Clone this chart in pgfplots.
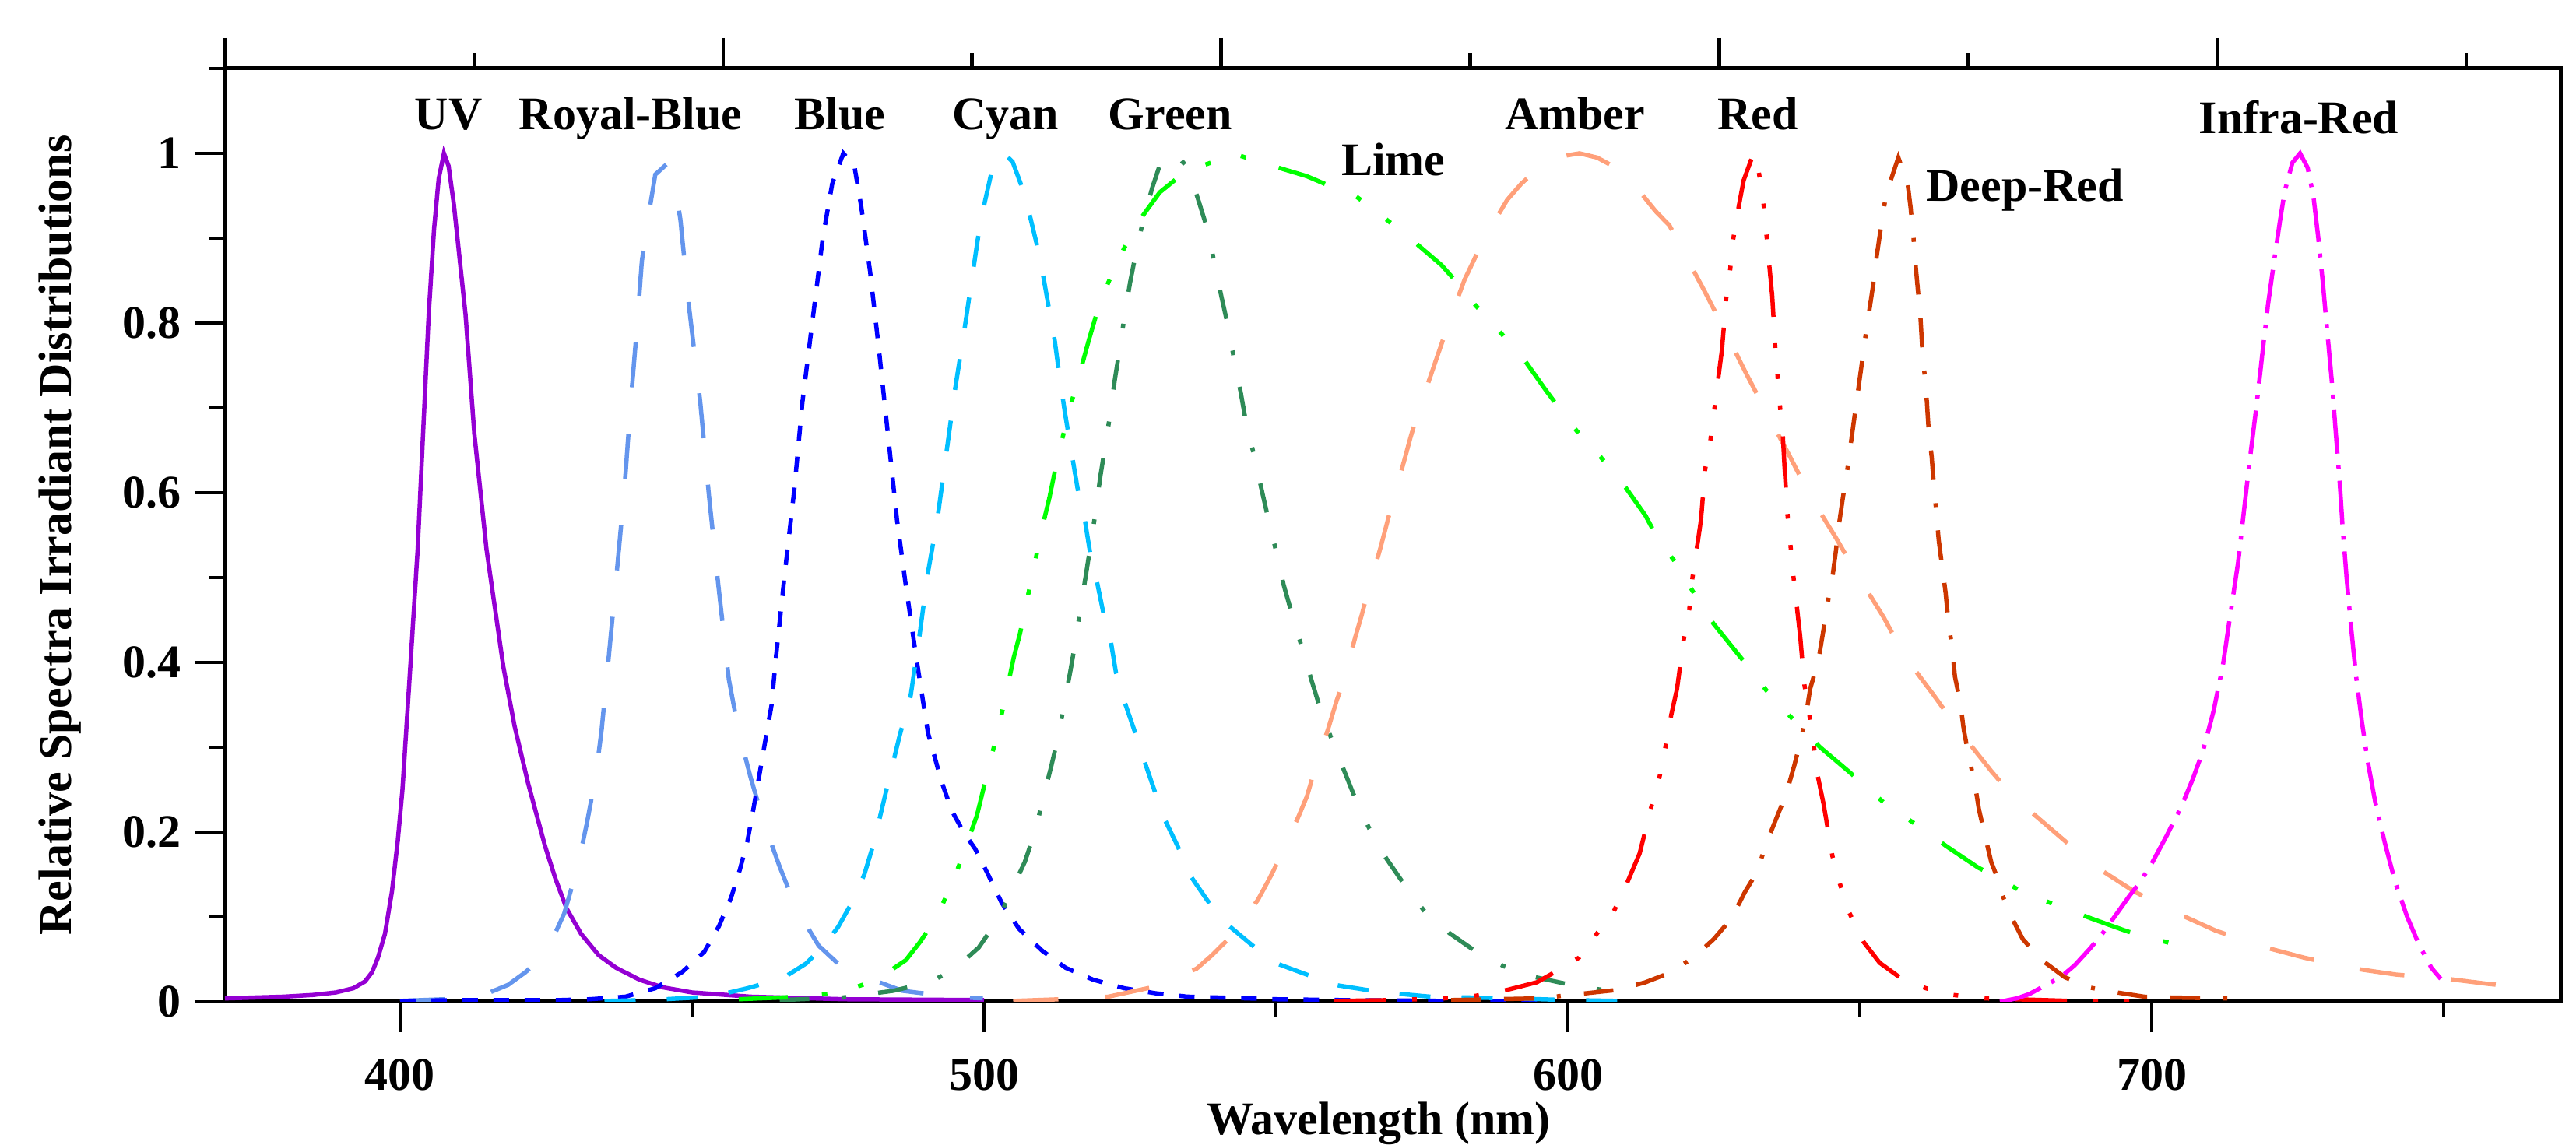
\documentclass[border=0pt]{standalone}
\usepackage{fontspec}
\setmainfont{Liberation Serif}
\usepackage{pgfplots}
\pgfplotsset{compat=1.18}
\definecolor{cUV}{HTML}{9400D3}
\definecolor{cRB}{HTML}{6495ED}
\definecolor{cBL}{HTML}{0000FF}
\definecolor{cCY}{HTML}{00BFFF}
\definecolor{cGR}{HTML}{2E8B57}
\definecolor{cLI}{HTML}{00FF00}
\definecolor{cAM}{HTML}{FFA07A}
\definecolor{cRD}{HTML}{FF0000}
\definecolor{cDR}{HTML}{CD3700}
\definecolor{cIR}{HTML}{FF00FF}
\newcommand{\lf}{\fontsize{12}{14}\selectfont\bfseries}
\begin{document}
\begin{tikzpicture}[font=\lf]
\begin{axis}[
  at={(0,0)}, anchor=south west,
  scale only axis, width=600pt, height=239.8pt,
  xmin=370, xmax=770, ymin=0, ymax=1.1,
  axis line style={line width=1pt},
  tick align=outside,
  xtick pos=left, ytick pos=left,
  xtick={400,500,600,700}, minor xtick={450,550,650,750},
  ytick={0,0.2,0.4,0.6,0.8,1}, minor ytick={0.1,0.3,0.5,0.7,0.9,1.1},
  major tick length=7.8pt, minor tick length=3.9pt,
  tick style={black, line width=0.9pt},
  /pgf/number format/assume math mode=true,
  ticklabel style={font=\lf},
  xticklabel style={yshift=-3.4pt},
  xlabel={Wavelength (nm)},
  ylabel={Relative Spectra Irradiant Distributions},
  label style={font=\lf},
  xlabel style={at={(axis description cs:0.494,-0.1418)}, anchor=base},
  ylabel style={at={(axis description cs:-0.0657,0.5)}, anchor=base},
  every axis plot/.append style={line width=1.1pt},
]
% UV
\addplot[cUV, solid] coordinates {
(370,0.004)(380,0.006)(385,0.008)(389,0.011)(392,0.016)(394,0.024)(395.2,0.035)(396.2,0.052)(397.4,0.08)(398.6,0.13)(399.6,0.19)(400.4,0.25)(401.7,0.39)(403,0.533)(404,0.68)(404.9,0.811)(405.8,0.91)(406.6,0.97)(407.5,1.0)(408.3,0.985)(409.2,0.94)(410.2,0.875)(411.2,0.81)(412.7,0.67)(414.8,0.533)(417.7,0.394)(419.6,0.325)(421.9,0.258)(424.8,0.184)(426.6,0.145)(428.5,0.11)(431,0.08)(434,0.055)(437,0.04)(441,0.026)(445,0.017)(450,0.011)(460,0.006)(476,0.003)(500,0.002)};
% Royal-Blue
\addplot[cRB, dash pattern=on 11.6pt off 12pt] coordinates {
(400,0.001)(411.5,0.004)(415,0.01)(418.5,0.02)(421.5,0.035)(424.8,0.057)(426.5,0.08)(428.1,0.104)(430.4,0.159)(432,0.211)(433.5,0.266)(434.5,0.32)(435.5,0.39)(436.9,0.491)(438.4,0.603)(439.5,0.707)(440.5,0.79)(441.4,0.873)(442.6,0.929)(443.7,0.975)(445.3,0.985)(446.8,0.975)(448,0.922)(449.5,0.818)(451.4,0.707)(452.9,0.596)(454.5,0.491)(456.3,0.38)(458,0.318)(460,0.265)(462.3,0.211)(464.9,0.161)(467.9,0.109)(471.7,0.066)(475,0.045)(478.9,0.031)(486,0.013)(494.2,0.006)(499.8,0.004)};
% Blue
\addplot[cBL, dash pattern=on 4pt off 4pt] coordinates {
(400,0.001)(410,0.002)(420,0.002)(427.4,0.002)(432.5,0.003)(438.6,0.006)(443.7,0.016)(448.3,0.035)(452.1,0.059)(454.6,0.089)(456.7,0.123)(458.2,0.156)(459.5,0.19)(460.5,0.227)(461.5,0.266)(462.5,0.306)(463.6,0.349)(464.4,0.408)(465.9,0.506)(467.5,0.603)(468.9,0.707)(470.9,0.818)(472.4,0.901)(474,0.964)(475.9,1.0)(477.8,0.985)(479,0.936)(480.5,0.86)(482,0.769)(483.5,0.672)(485.1,0.568)(486.6,0.491)(488.5,0.401)(490.4,0.317)(492.7,0.26)(494.5,0.225)(496.5,0.2)(498.5,0.18)(500.7,0.15)(503,0.117)(506,0.086)(510,0.06)(514,0.04)(518.7,0.026)(524,0.016)(529.4,0.01)(534.9,0.006)(540.3,0.005)(550,0.003)(561.4,0.002)(580,0.001)(595,0.001)};
% Cyan
\addplot[cCY, dash pattern=on 8pt off 8pt] coordinates {
(435,0.001)(442.7,0.002)(453.3,0.006)(459.5,0.016)(465.6,0.028)(469.5,0.045)(472.3,0.064)(475,0.088)(477.3,0.116)(479.5,0.15)(481,0.184)(483.3,0.25)(485.6,0.315)(487.4,0.359)(488.9,0.429)(490.4,0.506)(492,0.568)(493.5,0.644)(495,0.72)(496.6,0.79)(498.1,0.86)(499.4,0.92)(501.2,0.975)(503.4,1.0)(504.9,0.99)(506.3,0.964)(507.7,0.931)(509,0.894)(510,0.861)(511.1,0.818)(512.1,0.78)(512.8,0.744)(513.8,0.697)(514.8,0.655)(516.2,0.598)(517.2,0.571)(518.2,0.528)(519.2,0.5)(520.6,0.453)(521.6,0.43)(522.6,0.388)(524,0.355)(526,0.315)(527.4,0.285)(529.1,0.251)(530.8,0.217)(533.2,0.183)(535.2,0.15)(538.3,0.119)(541.7,0.091)(545.7,0.068)(549.8,0.046)(555.3,0.032)(560,0.02)(565.5,0.014)(570.2,0.01)(576.4,0.006)(590.7,0.004)(600,0.002)(609,0.001)};
% Green
\addplot[cGR, dash pattern=on 7.6pt off 8.3pt on 1.2pt off 8.3pt] coordinates {
(465,0.002)(475.8,0.005)(484.5,0.013)(490.6,0.023)(494.7,0.037)(499.1,0.064)(502.5,0.098)(504.5,0.128)(507,0.165)(508.9,0.204)(510,0.237)(511.5,0.277)(512.8,0.315)(513.7,0.35)(514.8,0.39)(515.8,0.43)(516.5,0.463)(517.5,0.505)(518.4,0.545)(519.1,0.577)(519.9,0.618)(520.8,0.657)(521.6,0.692)(522.4,0.733)(523.3,0.772)(524,0.805)(525,0.847)(526.2,0.889)(527.2,0.919)(528.8,0.959)(530.3,0.99)(531.8,1.0)(533.5,0.994)(534.9,0.983)(536.8,0.943)(538.6,0.903)(539.4,0.872)(540.7,0.83)(542,0.79)(542.8,0.758)(544,0.717)(545,0.678)(546.3,0.643)(547.5,0.605)(548.8,0.566)(550,0.532)(551.3,0.492)(552.9,0.453)(554.3,0.421)(556,0.381)(557.7,0.343)(559.4,0.312)(561.7,0.272)(563.8,0.236)(566,0.204)(568.9,0.169)(572.3,0.135)(575.4,0.107)(579.7,0.081)(584.5,0.058)(589,0.042)(594.4,0.029)(600.5,0.02)(604,0.016)(608,0.012)};
% Lime
\addplot[cLI, dash pattern=on 12.6pt off 8.8pt on 1.4pt off 8.2pt on 1.4pt off 8.8pt] coordinates {
(458,0.003)(468.7,0.006)(475.3,0.011)(481.4,0.025)(486.6,0.049)(489.1,0.071)(491.7,0.098)(494.5,0.138)(496.7,0.179)(498.8,0.22)(500.9,0.279)(502.5,0.322)(503.9,0.367)(505.1,0.406)(506.2,0.435)(507.1,0.465)(508.5,0.51)(509.8,0.554)(511.2,0.594)(512.1,0.624)(513.1,0.655)(514.6,0.697)(516.4,0.741)(518,0.781)(519.2,0.809)(520.6,0.837)(523.3,0.879)(526.4,0.919)(530.1,0.954)(533.5,0.973)(537.2,0.985)(543,0.999)(549.5,0.985)(555.3,0.973)(559.4,0.961)(563.2,0.952)(568.2,0.926)(573.3,0.898)(578.4,0.868)(581.1,0.847)(583.9,0.823)(588.3,0.79)(592.4,0.758)(596.1,0.722)(598.8,0.697)(601.5,0.673)(605.5,0.643)(609.9,0.606)(613.3,0.573)(615.7,0.542)(618.1,0.521)(621.2,0.486)(624.9,0.446)(629,0.411)(631.7,0.388)(634,0.367)(638.4,0.334)(643.2,0.3)(648,0.272)(651,0.254)(654.4,0.233)(659.4,0.21)(664.9,0.183)(670.3,0.158)(673.5,0.147)(677.9,0.129)(683.6,0.114)(689.7,0.098)(695.8,0.083)(699.9,0.075)(704.4,0.067)};
% Amber
\addplot[cAM, dash pattern=on 11.6pt off 12pt] coordinates {
(505,0.001)(513.1,0.003)(521.3,0.006)(528.7,0.017)(536.4,0.039)(538.9,0.054)(542,0.075)(546.9,0.12)(548.8,0.144)(550.5,0.167)(553.9,0.219)(555.3,0.242)(556.5,0.27)(559,0.323)(560.4,0.355)(561.4,0.374)(563.6,0.43)(564.7,0.456)(565.7,0.482)(567.9,0.535)(568.9,0.561)(569.9,0.587)(572.1,0.641)(573,0.664)(574.2,0.692)(576.9,0.746)(578.4,0.776)(579.4,0.797)(582.3,0.851)(584.1,0.877)(585.5,0.898)(589.6,0.945)(592,0.964)(595,0.983)(598.5,0.996)(602,1.0)(605,0.995)(609.6,0.978)(615,0.932)(617.4,0.915)(619.4,0.889)(623.3,0.839)(626.6,0.795)(630.5,0.741)(634,0.695)(638,0.643)(641.5,0.596)(645.9,0.547)(649.6,0.503)(654.1,0.453)(657.8,0.406)(662.6,0.362)(667.2,0.318)(672.5,0.272)(674.5,0.256)(677.6,0.234)(683.7,0.198)(687.1,0.178)(689.8,0.162)(697,0.13)(703.5,0.107)(710.9,0.084)(718.4,0.066)(726.1,0.052)(733.9,0.04)(741.9,0.032)(749.5,0.028)(757.7,0.021)(765.5,0.016)};
% Red
\addplot[cRD, dash pattern=on 13.2pt off 6.8pt on 1.2pt off 6.8pt on 1.2pt off 6.8pt on 1.2pt off 6.8pt] coordinates {
(560,0.001)(570,0.002)(578.7,0.004)(584.2,0.007)(589.6,0.014)(594.7,0.023)(598.8,0.039)(601.9,0.052)(604.6,0.077)(607.9,0.107)(610.2,0.141)(612.3,0.175)(614.3,0.23)(615.7,0.265)(616.7,0.3)(617.7,0.338)(618.7,0.369)(619.8,0.425)(620.8,0.463)(621.3,0.498)(622.1,0.535)(622.8,0.568)(623.5,0.627)(624.4,0.661)(625.1,0.699)(625.8,0.737)(626.4,0.769)(627.1,0.828)(627.8,0.863)(628.3,0.898)(629.2,0.935)(630.1,0.968)(631.8,1.0)(632.7,0.978)(633.5,0.942)(634,0.905)(634.5,0.868)(635,0.832)(635.5,0.774)(635.9,0.739)(636.3,0.704)(636.8,0.669)(637.1,0.631)(637.6,0.575)(638.1,0.54)(638.6,0.503)(639.2,0.467)(639.8,0.43)(640.5,0.374)(641.3,0.341)(642.1,0.303)(642.8,0.266)(643.8,0.233)(645.3,0.172)(646.5,0.141)(648.2,0.105)(650.6,0.071)(653.4,0.046)(657.2,0.027)(661.3,0.016)(666,0.008)(671.5,0.004)(686.4,0.001)(700,0.001)};
% Deep-Red
\addplot[cDR, dash pattern=on 7.6pt off 6pt on 7.6pt off 6pt on 1pt off 6pt] coordinates {
(580,0.002)(595,0.004)(608.5,0.014)(613.3,0.023)(617.4,0.034)(621.5,0.052)(625,0.074)(628,0.098)(630.3,0.129)(632.4,0.153)(634,0.187)(635.7,0.216)(637.4,0.245)(638.8,0.279)(639.8,0.306)(640.6,0.33)(641.5,0.369)(642.9,0.402)(643.7,0.435)(644.4,0.466)(645.3,0.5)(645.9,0.531)(646.4,0.561)(647.1,0.594)(647.8,0.624)(648.5,0.66)(649.1,0.69)(649.7,0.72)(650.4,0.755)(651,0.786)(651.7,0.818)(652.4,0.85)(652.9,0.879)(653.6,0.912)(654.4,0.947)(655.1,0.964)(656.6,0.995)(658.2,0.964)(658.7,0.936)(659.2,0.9)(659.6,0.865)(660,0.835)(660.4,0.805)(660.7,0.769)(661.1,0.739)(661.5,0.706)(661.8,0.673)(662.3,0.643)(662.7,0.608)(663.1,0.577)(663.5,0.545)(664.1,0.513)(664.7,0.482)(665.2,0.446)(665.8,0.418)(666.3,0.383)(667.2,0.353)(667.8,0.321)(668.7,0.288)(669.7,0.257)(670.4,0.227)(671.5,0.194)(672.5,0.165)(673.5,0.147)(674.2,0.13)(675.6,0.105)(677.9,0.074)(681,0.05)(685.1,0.029)(689.2,0.017)(694,0.011)(698.7,0.006)(703.4,0.005)(713,0.004)};
% Infra-Red
\addplot[cIR, dash pattern=on 11.2pt off 3pt on 1pt off 3pt] coordinates {
(674,0.0)(676.9,0.004)(679,0.009)(681.7,0.019)(684.4,0.029)(686.8,0.043)(689.2,0.061)(691.2,0.077)(693.4,0.098)(696.2,0.125)(698,0.141)(700,0.163)(702.5,0.195)(705,0.229)(707,0.262)(708.8,0.296)(710.6,0.343)(712.2,0.397)(713.5,0.458)(714.8,0.518)(715.8,0.579)(716.8,0.639)(717.9,0.7)(718.9,0.761)(719.9,0.821)(721,0.875)(722,0.922)(722.8,0.956)(724.1,0.989)(725.4,1.0)(726.7,0.983)(727.7,0.949)(728.5,0.902)(729.3,0.848)(730.1,0.787)(730.9,0.727)(731.5,0.673)(732.2,0.612)(732.7,0.559)(733.4,0.498)(734.2,0.438)(735,0.384)(736,0.33)(737,0.283)(738.3,0.235)(739.9,0.188)(741.7,0.141)(743.7,0.101)(745.8,0.067)(747.9,0.04)(749.5,0.027)};
\node[anchor=base] at (axis cs:408.3,1.0284) {UV};
\node[anchor=base] at (axis cs:439.5,1.0284) {Royal-Blue};
\node[anchor=base] at (axis cs:475.3,1.0284) {Blue};
\node[anchor=base] at (axis cs:503.7,1.0284) {Cyan};
\node[anchor=base] at (axis cs:531.9,1.0284) {Green};
\node[anchor=base] at (axis cs:570.1,0.974) {Lime};
\node[anchor=base] at (axis cs:601.2,1.0284) {Amber};
\node[anchor=base] at (axis cs:632.5,1.0284) {Red};
\node[anchor=base] at (axis cs:678.3,0.944) {Deep-Red};
\node[anchor=base] at (axis cs:725.2,1.023) {Infra-Red};
\end{axis}
\begin{axis}[
  at={(0,0)}, anchor=south west,
  scale only axis, width=600pt, height=239.8pt,
  xmin=370, xmax=770, ymin=0, ymax=1.1,
  axis line style={draw=none},
  tick align=outside,
  xtick pos=right, ytick pos=right,
  xtick={370,455.3,540.6,625.9,711.2},
  minor xtick={412.65,497.95,583.25,668.55,753.85},
  ytick=\empty,
  minor ytick={0,0.1,0.2,0.3,0.4,0.5,0.6,0.7,0.8,0.9,1.0,1.1},
  xticklabels={}, yticklabels={},
  major tick length=7.8pt, minor tick length=3.9pt,
  tick style={draw=black, line width=0.9pt},
]
\end{axis}
\pgfresetboundingbox
\path[use as bounding box] (-57.8pt,-36.8pt) rectangle (604pt,257.4pt);
\end{tikzpicture}
\end{document}
